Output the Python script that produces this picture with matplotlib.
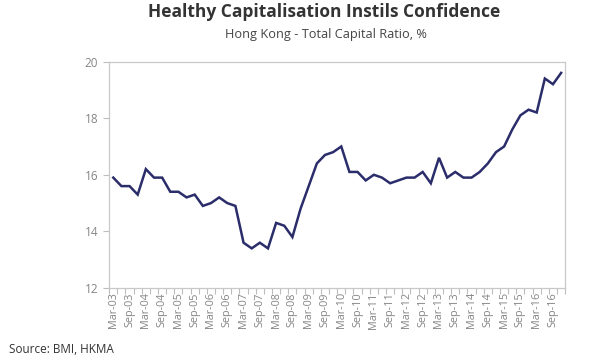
import numpy as np
from matplotlib import pyplot as plt
from matplotlib.ticker import FixedLocator

plt.rcParams['font.family'] = ['Open Sans', 'DejaVu Sans']

# trimestri da Mar-03 a Dec-16
quarters = []
for year in range(3, 17):
    for m in ['Mar', 'Jun', 'Sep', 'Dec']:
        quarters.append('%s-%02d' % (m, year))

ratio = [15.9, 15.6, 15.6, 15.3, 16.2, 15.9, 15.9, 15.4, 15.4, 15.2,
         15.3, 14.9, 15.0, 15.2, 15.0, 14.9, 13.6, 13.4, 13.6, 13.4,
         14.3, 14.2, 13.8, 14.8, 15.6, 16.4, 16.7, 16.8, 17.0, 16.1,
         16.1, 15.8, 16.0, 15.9, 15.7, 15.8, 15.9, 15.9, 16.1, 15.7,
         16.6, 15.9, 16.1, 15.9, 15.9, 16.1, 16.4, 16.8, 17.0, 17.6,
         18.1, 18.3, 18.2, 19.4, 19.2, 19.6]

yticks = [12, 14, 16, 18, 20]

fig = plt.figure(figsize=(6, 3.6), dpi=100)
ax = fig.add_axes([0.182, 0.2, 0.76, 0.629])

x = np.arange(len(ratio))
ax.plot(x, ratio, color='#2b2d6b', linewidth=1.8, solid_joinstyle='miter')

ax.set_xlim(-0.5, len(ratio) - 0.5)
ax.set_ylim(12, 20)

# etichette ogni due trimestri, tacche tra le categorie
ax.set_xticks(x[::2])
ax.set_xticklabels(quarters[::2], rotation=90, fontsize=7.8, color='#858585')
ax.xaxis.set_minor_locator(FixedLocator(np.arange(-0.5, len(ratio), 1)))
ax.tick_params(axis='x', which='major', length=0, pad=3)
ax.tick_params(axis='x', which='minor', length=4, color='#bdbdbd', width=0.8)

ax.set_yticks(yticks)
ax.set_yticklabels([str(v) for v in yticks], fontsize=8.5, color='#858585')
ax.tick_params(axis='y', length=4, color='#bdbdbd', width=0.8, pad=4)

for s in ax.spines.values():
    s.set_color('#c8c8c8')
    s.set_linewidth(0.9)

fig.text(0.54, 0.968, 'Healthy Capitalisation Instils Confidence', ha='center', va='center',
         fontsize=12.5, fontweight='bold', color='#333333')
fig.text(0.543, 0.905, 'Hong Kong - Total Capital Ratio, %', ha='center', va='center',
         fontsize=9.2, color='#444444')
fig.text(0.015, 0.028, 'Source: BMI, HKMA', ha='left', va='center', fontsize=8.5, color='#333333')

plt.savefig('out.png', dpi=100)
plt.close()
